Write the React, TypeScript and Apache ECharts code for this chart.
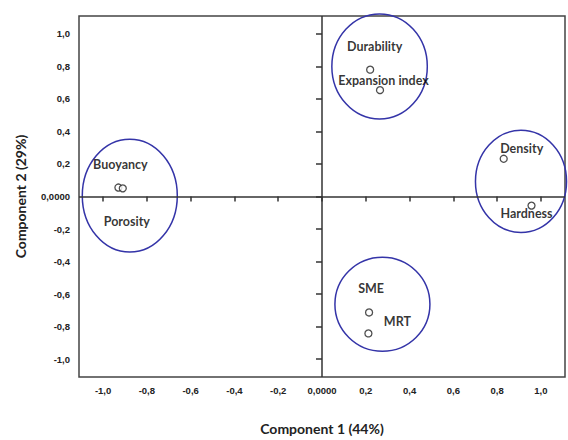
import React, { useEffect, useRef } from "react";
import * as echarts from "echarts";

// ---- Data ----
const variables = ["Durability", "Expansion index", "Buoyancy", "Porosity", "Density", "Hardness", "SME", "MRT"];
const component1 = [0.22, 0.265, -0.93, -0.91, 0.83, 0.957, 0.215, 0.212];
const component2 = [0.78, 0.654, 0.055, 0.05, 0.232, -0.056, -0.713, -0.842];

// Cluster ellipses (centre and radii in component units)
const groupCenterX = [0.263, -0.878, 0.909, 0.276];
const groupCenterY = [0.8, 0.005, 0.093, -0.663];
const groupRadiusX = [0.218, 0.217, 0.208, 0.217];
const groupRadiusY = [0.323, 0.347, 0.314, 0.289];

const xTicks = [-1, -0.8, -0.6, -0.4, -0.2, 0, 0.2, 0.4, 0.6, 0.8, 1];
const xTickLabels = ["-1,0", "-0,8", "-0,6", "-0,4", "-0,2", "0,0000", "0,2", "0,4", "0,6", "0,8", "1,0"];
const yTicks = [-1, -0.8, -0.6, -0.4, -0.2, 0, 0.2, 0.4, 0.6, 0.8, 1];
const yTickLabels = ["-1,0", "-0,8", "-0,6", "-0,4", "-0,2", "0,0000", "0,2", "0,4", "0,6", "0,8", "1,0"];

const xTitle = "Component 1 (44%)";
const yTitle = "Component 2 (29%)";

// label placement (pixel offsets from each point)
const labelOffsets: Record<string, number[]> = {
  Durability: [4.5, -23],
  "Expansion index": [3.5, -10],
  Buoyancy: [2, -23],
  Porosity: [4, 33],
  Density: [18, -10.6],
  Hardness: [-5, 8],
  SME: [2, -24],
  MRT: [29, -11.7],
};

const fmt = (ticks: number[], labels: string[]) => (v: number) => {
  const i = ticks.findIndex((t) => Math.abs(t - v) < 1e-6);
  return i >= 0 ? labels[i] : "";
};

export default function App() {
  const ref = useRef<HTMLDivElement>(null);
  useEffect(() => {
    if (!ref.current) return;
    const chart = echarts.init(ref.current, null, { renderer: "svg" });
    const labelFont = "Lato";
    const tickStyle = { color: "#222", fontSize: 9.5, fontWeight: "bold" as const, fontFamily: "Liberation Sans" };
    const points = variables.map((n, i) => ({
      name: n,
      value: [component1[i], component2[i]],
      label: { offset: labelOffsets[n] },
    }));
    const ellipses = groupCenterX.map((cx, i) => [cx, groupCenterY[i], groupRadiusX[i], groupRadiusY[i]]);
    chart.setOption({
      animation: false,
      backgroundColor: "#fff",
      grid: {
        left: 79,
        top: 16,
        width: 486,
        height: 370,
        show: true,
        borderColor: "#444",
        borderWidth: 1.5,
        backgroundColor: "transparent",
      },
      xAxis: {
        type: "value",
        min: -1.11,
        max: 1.11,
        axisLine: { show: false },
        splitLine: { show: false },
        axisTick: { show: true, customValues: xTicks, length: 5, lineStyle: { color: "#333", width: 1.5 } },
        axisLabel: { customValues: xTicks, formatter: fmt(xTicks, xTickLabels), margin: 8, ...tickStyle },
        name: xTitle,
        nameLocation: "middle",
        nameGap: 44,
        nameTextStyle: { fontFamily: labelFont, fontWeight: "bold", fontSize: 14, color: "#222" },
      },
      yAxis: {
        type: "value",
        min: -1.11,
        max: 1.11,
        axisLine: { show: false },
        splitLine: { show: false },
        axisTick: { show: true, customValues: yTicks, length: 6, lineStyle: { color: "#333", width: 1.5 } },
        axisLabel: { customValues: yTicks, formatter: fmt(yTicks, yTickLabels), margin: 9, ...tickStyle },
        name: yTitle,
        nameLocation: "middle",
        nameGap: 52,
        nameTextStyle: { fontFamily: labelFont, fontWeight: "bold", fontSize: 14, color: "#222" },
      },
      series: [
        {
          type: "custom",
          silent: true,
          data: ellipses,
          encode: { x: 0, y: 1 },
          renderItem: (params: any, api: any) => {
            const c = api.coord([api.value(0), api.value(1)]);
            const s = api.size([api.value(2), api.value(3)]);
            return {
              type: "ellipse",
              shape: { cx: c[0], cy: c[1], rx: s[0], ry: s[1] },
              style: { fill: "none", stroke: "#3434a8", lineWidth: 1.5 },
            };
          },
        },
        {
          type: "scatter",
          symbol: "circle",
          symbolSize: 7,
          itemStyle: { color: "#fff", borderColor: "#222", borderWidth: 1.3 },
          label: {
            show: true,
            position: "inside",
            formatter: "{b}",
            align: "center",
            verticalAlign: "middle",
            color: "#000",
            fontFamily: labelFont,
            fontWeight: "bold",
            fontSize: 12.5,
          },
          data: points,
          markLine: {
            silent: true,
            symbol: ["none", "none"],
            label: { show: false },
            lineStyle: { color: "#333", width: 1.5, type: "solid" },
            data: [{ xAxis: 0 }, { yAxis: 0 }],
          },
        },
      ],
    });
    return () => chart.dispose();
  }, []);
  return <div ref={ref} style={{ position: "fixed", left: 0, top: 0, width: 568, height: 440 }} />;
}
